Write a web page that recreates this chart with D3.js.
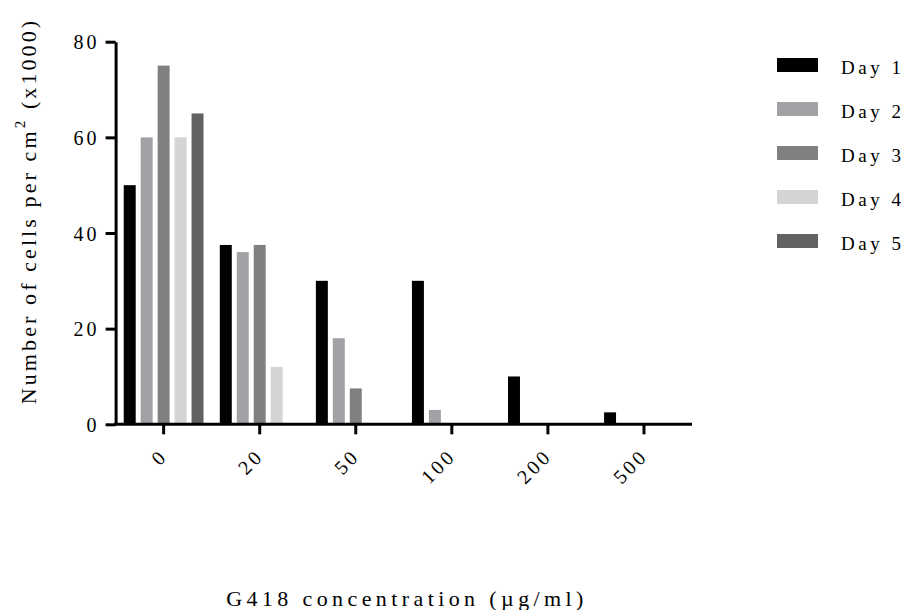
<!DOCTYPE html>
<html>
<head>
<meta charset="utf-8">
<script src="https://cdn.jsdelivr.net/npm/d3@7"></script>
<style>
  html, body { margin: 0; padding: 0; background: #fff; }
  svg { display: block; font-family: "Liberation Serif", "Times New Roman", serif; }
</style>
</head>
<body>
<svg id="chart" width="906" height="610"></svg>
<script>
// G418 kill curve: cell density per day at each drug concentration
const concentrations = ["0", "20", "50", "100", "200", "500"];
const days = ["Day 1", "Day 2", "Day 3", "Day 4", "Day 5"];
const day1 = [50, 37.5, 30, 30, 10, 2.5];
const day2 = [60, 36, 18, 3, 0, 0];
const day3 = [75, 37.5, 7.5, 0, 0, 0];
const day4 = [60, 12, 0, 0, 0, 0];
const day5 = [65, 0, 0, 0, 0, 0];
const yTicks = [0, 20, 40, 60, 80];
const dayColors = ["#000000", "#a2a1a6", "#808080", "#d4d4d4", "#626262"];

const series = [day1, day2, day3, day4, day5];

const svg = d3.select("#chart");
const plotLeft = 115.6, plotRight = 692, plotTop = 41.7, plotBottom = 424.3;

const x0 = d3.scaleBand().domain(concentrations).range([plotLeft, plotRight]).paddingInner(0).paddingOuter(0);
const x1 = d3.scaleBand().domain(days).range([0, x0.bandwidth()]).paddingInner(0.294).paddingOuter(0.48);
const y = d3.scaleLinear().domain([0, 80]).range([plotBottom, plotTop]);
const color = d3.scaleOrdinal().domain(days).range(dayColors);

// bars
const rows = [];
concentrations.forEach((c, i) => {
  days.forEach((d, j) => rows.push({ conc: c, day: d, value: series[j][i] }));
});
svg.append("g").selectAll("rect")
  .data(rows.filter(r => r.value > 0))
  .join("rect")
  .attr("x", r => x0(r.conc) + x1(r.day))
  .attr("y", r => y(r.value))
  .attr("width", x1.bandwidth())
  .attr("height", r => y(0) - y(r.value))
  .attr("fill", r => color(r.day));

// y axis
const yAxis = svg.append("g")
  .attr("transform", `translate(${plotLeft},0)`)
  .call(d3.axisLeft(y).tickValues(yTicks).tickSize(10).tickSizeOuter(0).tickPadding(9));
yAxis.select(".domain").attr("stroke", "#000").attr("stroke-width", 3);
yAxis.selectAll(".tick line").attr("stroke", "#000").attr("stroke-width", 3);
yAxis.selectAll(".tick text")
  .attr("font-size", 20)
  .attr("font-family", "Liberation Serif, serif")
  .attr("letter-spacing", 3)
  .attr("fill", "#000")
  .attr("dx", 3)
  .attr("dy", "0.36em");

// x axis
const xAxis = svg.append("g")
  .attr("transform", `translate(0,${plotBottom})`)
  .call(d3.axisBottom(x0).tickSize(10).tickSizeOuter(0));
xAxis.select(".domain").attr("stroke", "#000").attr("stroke-width", 3)
  .attr("d", `M${plotLeft - 1.5},0H${plotRight}`);
xAxis.selectAll(".tick line").attr("stroke", "#000").attr("stroke-width", 3);
xAxis.selectAll(".tick text")
  .attr("font-size", 20)
  .attr("font-family", "Liberation Serif, serif")
  .attr("letter-spacing", 3)
  .attr("fill", "#000")
  .attr("text-anchor", "end")
  .attr("y", 0)
  .attr("dy", 0)
  .attr("transform", "translate(5,33) rotate(-45)");

// axis titles
svg.append("text")
  .attr("x", 407)
  .attr("y", 606)
  .attr("text-anchor", "middle")
  .attr("font-size", 22)
  .attr("letter-spacing", 4.4)
  .text("G418 concentration (µg/ml)");

const yTitle = svg.append("text")
  .attr("transform", "translate(36,211) rotate(-90)")
  .attr("text-anchor", "middle")
  .attr("font-size", 22)
  .attr("letter-spacing", 3.1);
yTitle.append("tspan").text("Number of cells per cm");
yTitle.append("tspan").attr("font-size", 15).attr("dy", "-0.75em").text("2");
yTitle.append("tspan").attr("dy", "0.5em").text(" (x1000)");

// legend
const legend = svg.append("g").selectAll("g")
  .data(days)
  .join("g")
  .attr("transform", (d, i) => `translate(777,${58 + i * 44})`);
legend.append("rect")
  .attr("width", 41)
  .attr("height", 14)
  .attr("fill", d => color(d));
legend.append("text")
  .attr("x", 64)
  .attr("y", 16)
  .attr("font-size", 19)
  .attr("letter-spacing", 3.5)
  .text(d => d);
</script>
</body>
</html>
